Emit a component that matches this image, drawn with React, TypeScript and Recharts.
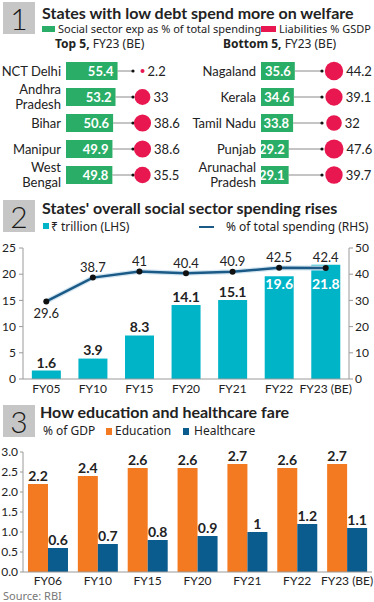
import React from "react";
import {
  BarChart,
  ComposedChart,
  Bar,
  Line,
  XAxis,
  YAxis,
  LabelList,
} from "recharts";

const FONT = "Lato, 'Noto Sans', sans-serif";
const BODY = "'Noto Sans', sans-serif";
const INK = "#222";
const GREEN = "#2aae67";
const RED = "#e8174f";
const CYAN = "#00b4c8";
const NAVY = "#1b5a87";
const ORANGE = "#f47a22";
const BLUE = "#0b5c8e";
const AXIS = "#9a9a9a";

// 1. top / bottom states, FY23 (BE)
const topStates = ["NCT Delhi", "Andhra\nPradesh", "Bihar", "Manipur", "West\nBengal"];
const topSocial = [55.4, 53.2, 50.6, 49.9, 49.8];
const topLiab = [2.2, 33, 38.6, 38.6, 35.5];
const bottomStates = ["Nagaland", "Kerala", "Tamil Nadu", "Punjab", "Arunachal\nPradesh"];
const bottomSocial = [35.6, 34.6, 33.8, 29.2, 29.1];
const bottomLiab = [44.2, 39.1, 32, 47.6, 39.7];

// 2. overall social sector spending
const years2 = ["FY05", "FY10", "FY15", "FY20", "FY21", "FY22", "FY23 (BE)"];
const trillion = [1.6, 3.9, 8.3, 14.1, 15.1, 19.6, 21.8];
const sharePct = [29.6, 38.7, 41, 40.4, 40.9, 42.5, 42.4];
const leftTicks2 = [0, 5, 10, 15, 20, 25];
const rightTicks2 = [0, 10, 20, 30, 40, 50];

// 3. education and healthcare, % of GDP
const years3 = ["FY06", "FY10", "FY15", "FY20", "FY21", "FY22", "FY23 (BE)"];
const education = [2.2, 2.4, 2.6, 2.6, 2.7, 2.6, 2.7];
const healthcare = [0.6, 0.7, 0.8, 0.9, 1, 1.2, 1.1];
const ticks3 = [0, 0.5, 1, 1.5, 2, 2.5, 3];

const topData = topStates.map((name, i) => ({ name, social: topSocial[i], liab: topLiab[i] }));
const bottomData = bottomStates.map((name, i) => ({ name, social: bottomSocial[i], liab: bottomLiab[i] }));
const spendData = years2.map((year, i) => ({ year, trillion: trillion[i], pct: sharePct[i] }));
const gdpData = years3.map((year, i) => ({ year, edu: education[i], health: healthcare[i] }));

const Txt = ({ x, y, size, bold, color, font, children }: any) => (
  <div
    style={{
      position: "absolute",
      left: x,
      top: y - size * 0.57,
      fontSize: size,
      lineHeight: `${size * 1.14}px`,
      fontWeight: bold ? 700 : 400,
      color: color || INK,
      fontFamily: font || BODY,
      whiteSpace: "nowrap",
    }}
  >
    {children}
  </div>
);

const Box = ({ x, y, w, h, color }: any) => (
  <div style={{ position: "absolute", left: x, top: y, width: w, height: h, background: color }} />
);

const NumBox = ({ n, top }: any) => (
  <div
    style={{
      position: "absolute",
      left: 3,
      top,
      width: 32,
      height: 32,
      background: "#c6c6c6",
      color: "#1a1a1a",
      fontSize: 30,
      fontWeight: 300,
      lineHeight: "32px",
      textAlign: "center",
      fontFamily: FONT,
    }}
  >
    {n}
  </div>
);

const StateTick = (props: any) => {
  const { x, y, payload } = props;
  const lines = String(payload.value).split("\n");
  const lh = 15;
  const y0 = y - ((lines.length - 1) * lh) / 2;
  return (
    <text textAnchor="end" fontFamily={FONT} fontSize={13} fill={INK}>
      {lines.map((l, i) => (
        <tspan key={i} x={x} y={y0 + i * lh} dy="0.35em">
          {l}
        </tspan>
      ))}
    </text>
  );
};

// bar + connector + liabilities bubble (area ~ value)
const stateShape = (dotX: number, circleX: number) => (props: any) => {
  const { x, y, width, height, payload } = props;
  const cy = y + height / 2;
  const r = 1.38 * Math.sqrt(payload.liab);
  return (
    <g>
      <rect x={x} y={y} width={width} height={height} fill={GREEN} />
      <line x1={x + width} x2={dotX} y1={cy} y2={cy} stroke="#8a8a8a" strokeWidth={1} />
      <circle cx={dotX} cy={cy} r={1.6} fill="#111" />
      <circle cx={circleX} cy={cy} r={r} fill={RED} />
      <text x={circleX + Math.max(r, 2) + 3} y={cy} dy="0.35em" fontFamily={FONT} fontSize={13} fill={INK}>
        {payload.liab}
      </text>
    </g>
  );
};

const StatePanel = ({ data, left, axisW, max, dotX, circleX }: any) => (
  <div style={{ position: "absolute", left, top: 58 }}>
    <BarChart width={187} height={142} data={data} layout="vertical" margin={{ top: 0, right: 0, bottom: 12, left: 0 }}>
      <XAxis type="number" hide domain={[0, max]} />
      <YAxis
        type="category"
        dataKey="name"
        width={axisW}
        interval={0}
        axisLine={false}
        tickLine={false}
        tickSize={0}
        tickMargin={5}
        tick={<StateTick />}
      />
      <Bar dataKey="social" barSize={18} fill={GREEN} shape={stateShape(dotX, circleX)} isAnimationActive={false}>
        <LabelList dataKey="social" position="insideRight" offset={4} fill="#fff" fontSize={13} fontWeight={700} fontFamily={FONT} />
      </Bar>
    </BarChart>
  </div>
);

// labels for the two tallest bars sit inside, at the 18.1 level, below the line
const TrillionLabel = (props: any) => {
  const vb = props.viewBox || props;
  const { x, y, width, height } = vb;
  const value = Number(props.value);
  const inside = value > 18;
  const ty = inside ? y + height - (height * 18.1) / value : y - 8;
  return (
    <text x={x + width / 2} y={ty} dy="0.35em" textAnchor="middle" fill={inside ? "#fff" : INK} fontWeight={700} fontSize={14} fontFamily={FONT}>
      {value}
    </text>
  );
};

const PctLabel = (props: any) => {
  const { x, y, value, index } = props;
  const below = index === 0;
  return (
    <text x={x} y={below ? y + 12 : y - 10} dy="0.35em" textAnchor="middle" fill={INK} fontSize={13} fontFamily={FONT}>
      {value}
    </text>
  );
};

const tickStyle = { fill: INK, fontSize: 12, fontFamily: FONT };

export default function App() {
  return (
    <div style={{ position: "absolute", left: 0, top: 0, width: 374, height: 602, background: "#fff", overflow: "hidden" }}>
      {/* section 1 */}
      <NumBox n="1" top={2} />
      <Txt x={42} y={13.5} size={16} bold font={FONT}>States with low debt spend more on welfare</Txt>
      <Box x={42} y={26} w={13} h={6} color={GREEN} />
      <Txt x={58} y={29.5} size={11}>Social sector exp as % of total spending</Txt>
      <Box x={261} y={26} w={15} h={6} color={RED} />
      <Txt x={279} y={29.5} size={11}>Liabilities % GSDP</Txt>
      <Txt x={55} y={44} size={12}>
        <b>Top 5,</b> FY23 (BE)
      </Txt>
      <Txt x={223} y={44} size={12}>
        <b>Bottom 5,</b> FY23 (BE)
      </Txt>
      <StatePanel data={topData} left={0} axisW={66} max={130} dotX={133} circleX={142.5} />
      <StatePanel data={bottomData} left={187} axisW={74} max={119} dotX={135} circleX={147} />

      {/* section 2 */}
      <NumBox n="2" top={200} />
      <Txt x={42} y={208} size={16} bold font={FONT}>States' overall social sector spending rises</Txt>
      <Box x={43} y={223} w={6} h={6} color={CYAN} />
      <Txt x={51} y={227} size={12}>₹ trillion (LHS)</Txt>
      <Box x={199} y={226} w={15} h={2} color={NAVY} />
      <Txt x={226} y={227} size={12}>% of total spending (RHS)</Txt>
      <div style={{ position: "absolute", left: 0, top: 238 }}>
        <ComposedChart width={374} height={161} data={spendData} margin={{ top: 10, right: 0, bottom: 0, left: 0 }} barCategoryGap="19%">
          <XAxis dataKey="year" interval={0} height={20} stroke={AXIS} tickLine={false} tickSize={0} tickMargin={5} tick={tickStyle} />
          <YAxis yAxisId="l" domain={[0, 25]} ticks={leftTicks2} interval={0} width={23} stroke={AXIS} tickSize={4} tickMargin={3} tick={tickStyle} />
          <YAxis yAxisId="r" orientation="right" domain={[0, 50]} ticks={rightTicks2} interval={0} width={25} stroke={AXIS} tickSize={4} tickMargin={2} tick={tickStyle} />
          <Bar yAxisId="l" dataKey="trillion" fill={CYAN} isAnimationActive={false}>
            <LabelList dataKey="trillion" content={TrillionLabel} />
          </Bar>
          <Line yAxisId="r" dataKey="pct" stroke="#d3e6f1" strokeWidth={5} dot={false} activeDot={false} isAnimationActive={false} />
          <Line
            yAxisId="r"
            dataKey="pct"
            stroke={NAVY}
            strokeWidth={2.5}
            dot={{ r: 3, fill: "#111", stroke: "#111", strokeWidth: 0 }}
            isAnimationActive={false}
          >
            <LabelList dataKey="pct" content={PctLabel} />
          </Line>
        </ComposedChart>
      </div>

      {/* section 3 */}
      <NumBox n="3" top={405} />
      <Txt x={40} y={412} size={16} bold font={FONT}>How education and healthcare fare</Txt>
      <Txt x={43} y={431} size={12}>% of GDP</Txt>
      <Box x={106} y={428} w={6} h={7} color={ORANGE} />
      <Txt x={115} y={431} size={12}>Education</Txt>
      <Box x={183} y={428} w={6} h={7} color={BLUE} />
      <Txt x={194} y={431} size={12}>Healthcare</Txt>
      <div style={{ position: "absolute", left: 0, top: 445 }}>
        <BarChart width={374} height={147} data={gdpData} margin={{ top: 7, right: 2, bottom: 0, left: 0 }} barCategoryGap="10%" barGap={0}>
          <XAxis dataKey="year" interval={0} height={20} stroke={AXIS} tickLine={false} tickSize={0} tickMargin={4} tick={tickStyle} />
          <YAxis
            domain={[0, 3]}
            ticks={ticks3}
            interval={0}
            width={23}
            stroke={AXIS}
            tickSize={3}
            tickMargin={2}
            tick={tickStyle}
            tickFormatter={(v: number) => v.toFixed(1)}
          />
          <Bar dataKey="edu" fill={ORANGE} isAnimationActive={false}>
            <LabelList dataKey="edu" position="top" offset={3} fill={INK} fontSize={14} fontWeight={700} fontFamily={FONT} />
          </Bar>
          <Bar dataKey="health" fill={BLUE} isAnimationActive={false}>
            <LabelList dataKey="health" position="top" offset={3} fill={INK} fontSize={14} fontWeight={700} fontFamily={FONT} />
          </Bar>
        </BarChart>
      </div>
      <Txt x={3} y={596} size={11} color="#777">Source: RBI</Txt>
    </div>
  );
}
